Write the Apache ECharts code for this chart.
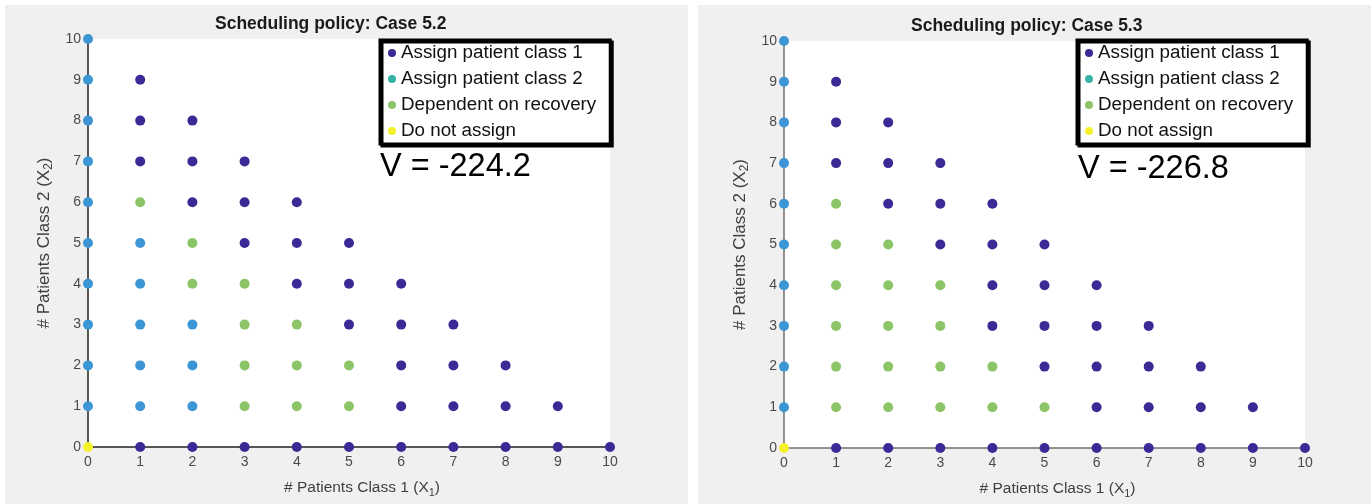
<!DOCTYPE html>
<html>
<head>
<meta charset="utf-8">
<script src="https://cdn.jsdelivr.net/npm/echarts@6/dist/echarts.min.js"></script>
<style>
html,body{margin:0;padding:0;background:#fff;}
#chart{width:1371px;height:504px;}
</style>
</head>
<body>
<div id="chart"></div>
<script>
// ---- data ----
const xTicks = [0,1,2,3,4,5,6,7,8,9,10];
const seriesNames = ['Assign patient class 1','Assign patient class 2','Dependent on recovery','Do not assign'];
const titles = ['Scheduling policy: Case 5.2','Scheduling policy: Case 5.3'];
const valueLabels = ['V = -224.2','V = -226.8'];
const xAxisName = '# Patients Class 1 (X{sub|1})';
const yAxisName = '# Patients Class 2 (X{sub|2})';

// Case 5.2 points [x1, x2]
const case52Class1 = [[1,0],[2,0],[3,0],[4,0],[5,0],[6,0],[7,0],[8,0],[9,0],[10,0],
  [6,1],[7,1],[8,1],[9,1],[6,2],[7,2],[8,2],[5,3],[6,3],[7,3],[4,4],[5,4],[6,4],
  [3,5],[4,5],[5,5],[2,6],[3,6],[4,6],[1,7],[2,7],[3,7],[1,8],[2,8],[1,9]];
const case52Class2 = [[0,1],[0,2],[0,3],[0,4],[0,5],[0,6],[0,7],[0,8],[0,9],[0,10],
  [1,1],[2,1],[1,2],[2,2],[1,3],[2,3],[1,4],[1,5]];
const case52Dependent = [[3,1],[4,1],[5,1],[3,2],[4,2],[5,2],[3,3],[4,3],[2,4],[3,4],[2,5],[1,6]];
const case52NoAssign = [[0,0]];

// Case 5.3 points [x1, x2]
const case53Class1 = [[1,0],[2,0],[3,0],[4,0],[5,0],[6,0],[7,0],[8,0],[9,0],[10,0],
  [6,1],[7,1],[8,1],[9,1],[5,2],[6,2],[7,2],[8,2],[4,3],[5,3],[6,3],[7,3],[4,4],[5,4],[6,4],
  [3,5],[4,5],[5,5],[2,6],[3,6],[4,6],[1,7],[2,7],[3,7],[1,8],[2,8],[1,9]];
const case53Class2 = [[0,1],[0,2],[0,3],[0,4],[0,5],[0,6],[0,7],[0,8],[0,9],[0,10]];
const case53Dependent = [[1,1],[2,1],[3,1],[4,1],[5,1],[1,2],[2,2],[3,2],[4,2],[1,3],[2,3],[3,3],
  [1,4],[2,4],[3,4],[1,5],[2,5],[1,6]];
const case53NoAssign = [[0,0]];

// ---- styles ----
const colClass1 = '#3a2a96';
const colClass2 = '#3c96d6';
const colClass2Legend = '#38b4a6';
const colDep = '#8cc567';
const colNo = '#f4f02c';
const FONT = 'Liberation Sans, Arial, sans-serif';

const grids = [
  {left: 88, top: 39, width: 522, height: 408},
  {left: 784, top: 41, width: 521, height: 408}
];
const axisColors = ['#222222', '#707070'];
const titlePos = [{left: 215, top: 15}, {left: 911, top: 17}];
const vPos = [{left: 380, top: 151}, {left: 1078, top: 153}];
const legendPos = [{left: 380, top: 40}, {left: 1077, top: 40}];

const chart = echarts.init(document.getElementById('chart'));

function subRich(size) {
  return {sub: {fontSize: Math.round(size * 0.7), fontFamily: FONT, color: '#404040', lineHeight: 12, verticalAlign: 'bottom'}};
}

function makeX(i) {
  return {
    gridIndex: i, type: 'value', min: 0, max: 10, interval: 1,
    axisLine: {show: true, onZero: false, lineStyle: {color: axisColors[i], width: 1.5}},
    axisTick: {show: false}, splitLine: {show: false},
    axisLabel: {fontSize: 14, color: '#4a4a4a', fontFamily: FONT, margin: 8, showMinLabel: true, showMaxLabel: true,
      formatter: v => String(xTicks[v])},
    name: xAxisName, nameLocation: 'middle', nameGap: 31,
    nameTextStyle: {fontSize: 15.5, color: '#404040', fontFamily: FONT, lineHeight: 20, padding: [0, 0, 0, 26], rich: subRich(15.5)}
  };
}
function makeY(i) {
  return {
    gridIndex: i, type: 'value', min: 0, max: 10, interval: 1,
    axisLine: {show: true, onZero: false, lineStyle: {color: axisColors[i], width: 1.5}},
    axisTick: {show: false}, splitLine: {show: false},
    axisLabel: {fontSize: 14, color: '#4a4a4a', fontFamily: FONT, margin: 7, showMinLabel: true, showMaxLabel: true},
    name: yAxisName, nameLocation: 'middle', nameGap: 33,
    nameTextStyle: {fontSize: 17, color: '#404040', fontFamily: FONT, lineHeight: 22, rich: subRich(17)}
  };
}
function makeSeries(i, name, data, color) {
  return {
    type: 'scatter', name: name, xAxisIndex: i, yAxisIndex: i, data: data,
    symbol: 'circle', symbolSize: 10, clip: false,
    itemStyle: {color: color, opacity: 1},
    emphasis: {disabled: true}
  };
}
function makeLegend(i) {
  return {
    orient: 'vertical', left: legendPos[i].left, top: legendPos[i].top,
    backgroundColor: '#fff', borderColor: '#000', borderWidth: 3,
    shadowColor: '#000', shadowOffsetX: 2, shadowOffsetY: 2, shadowBlur: 0,
    padding: [3, 14, 3, 8], itemGap: 6, itemWidth: 8, itemHeight: 8, icon: 'circle',
    textStyle: {fontSize: 18.8, color: '#111', fontFamily: FONT, lineHeight: 20},
    selectedMode: false,
    data: [
      {name: seriesNames[0], itemStyle: {color: colClass1}},
      {name: seriesNames[1], itemStyle: {color: colClass2Legend}},
      {name: seriesNames[2], itemStyle: {color: colDep}},
      {name: seriesNames[3], itemStyle: {color: colNo}}
    ]
  };
}

const allData = [
  [case52Class1, case52Class2, case52Dependent, case52NoAssign],
  [case53Class1, case53Class2, case53Dependent, case53NoAssign]
];
const colors = [colClass1, colClass2, colDep, colNo];

const series = [];
for (let i = 0; i < 2; i++) {
  for (let k = 0; k < 4; k++) series.push(makeSeries(i, seriesNames[k], allData[i][k], colors[k]));
}

chart.setOption({
  backgroundColor: '#ffffff',
  animation: false,
  textStyle: {fontFamily: FONT},
  graphic: [
    {type: 'rect', z: -10, shape: {x: 5, y: 5, width: 683, height: 499}, style: {fill: '#f0f0f0'}, silent: true},
    {type: 'rect', z: -10, shape: {x: 698, y: 5, width: 673, height: 499}, style: {fill: '#f0f0f0'}, silent: true}
  ],
  title: [0, 1].map(i => ({
    text: titles[i], left: titlePos[i].left, top: titlePos[i].top, padding: 0,
    textStyle: {fontSize: 17.5, fontWeight: 'bold', color: '#1a1a1a', fontFamily: FONT}
  })).concat([0, 1].map(i => ({
    text: valueLabels[i], left: vPos[i].left, top: vPos[i].top, padding: 0, z: 6,
    textStyle: {fontSize: 32.5, fontWeight: 'normal', color: '#000', fontFamily: FONT}
  }))),
  grid: grids.map(g => Object.assign({show: true, backgroundColor: '#fff', borderWidth: 0, containLabel: false}, g)),
  xAxis: [makeX(0), makeX(1)],
  yAxis: [makeY(0), makeY(1)],
  legend: [makeLegend(0), makeLegend(1)],
  series: series
});
</script>
</body>
</html>
